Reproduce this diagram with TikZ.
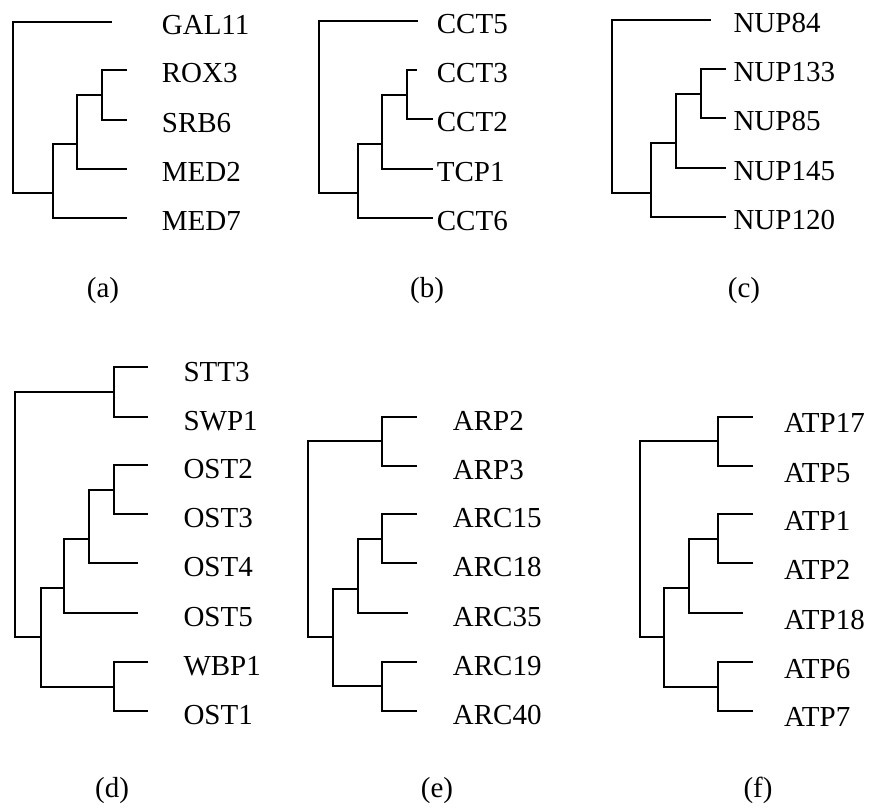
\documentclass[tikz,border=0pt]{standalone}
\usepackage{fontspec}
\setmainfont{Liberation Serif}
\begin{document}
\begin{tikzpicture}[x=1pt,y=-1pt,
  branch/.style={draw=black,line width=1.8pt,line join=miter},
  leaflabel/.style={anchor=base west,inner sep=0pt,font=\fontsize{29}{34}\selectfont},
  panellabel/.style={anchor=base,inner sep=0pt,font=\fontsize{29}{34}\selectfont}]
\useasboundingbox (0,0) rectangle (880,810);
\fill[white] (0,0) rectangle (880,810);

% ---------- (a) ----------
\coordinate (a0) at (13.3,100);
\coordinate (a1) at (52.7,192.7);
\coordinate (a2) at (77.3,144);
\coordinate (a3) at (101.7,95);
\coordinate (aL1) at (112,21.7);
\coordinate (aL2) at (127.3,70);
\coordinate (aL3) at (127.3,120);
\coordinate (aL4) at (127.3,169);
\coordinate (aL5) at (127.3,217.7);
\draw[branch] (a0) |- (aL1);
\draw[branch] (a0) |- (a1);
\draw[branch] (a1) |- (a2);
\draw[branch] (a1) |- (aL5);
\draw[branch] (a2) |- (a3);
\draw[branch] (a2) |- (aL4);
\draw[branch] (a3) |- (aL2);
\draw[branch] (a3) |- (aL3);
\node[leaflabel] (ta1) at (161.7,34.2) {GAL11};
\node[leaflabel] (ta2) at (161.7,82.5) {ROX3};
\node[leaflabel] (ta3) at (161.7,132.5) {SRB6};
\node[leaflabel] (ta4) at (161.7,181.5) {MED2};
\node[leaflabel] (ta5) at (161.7,230.2) {MED7};
\node[panellabel] (pa) at (103,297) {(a)};

% ---------- (b) ----------
\coordinate (b0) at (319,100);
\coordinate (b1) at (358.3,192.7);
\coordinate (b2) at (382,144);
\coordinate (b3) at (407.3,95);
\coordinate (bL1) at (417.7,20.7);
\coordinate (bL2) at (416.7,70);
\coordinate (bL3) at (433,119.3);
\coordinate (bL4) at (433,169);
\coordinate (bL5) at (433,217.7);
\draw[branch] (b0) |- (bL1);
\draw[branch] (b0) |- (b1);
\draw[branch] (b1) |- (b2);
\draw[branch] (b1) |- (bL5);
\draw[branch] (b2) |- (b3);
\draw[branch] (b2) |- (bL4);
\draw[branch] (b3) |- (bL2);
\draw[branch] (b3) |- (bL3);
\node[leaflabel] (tb1) at (436.7,33.2) {CCT5};
\node[leaflabel] (tb2) at (436.7,82.5) {CCT3};
\node[leaflabel] (tb3) at (436.7,131.8) {CCT2};
\node[leaflabel] (tb4) at (436.7,181.5) {TCP1};
\node[leaflabel] (tb5) at (436.7,230.2) {CCT6};
\node[panellabel] (pb) at (427,297) {(b)};

% ---------- (c) ----------
\coordinate (c0) at (611.7,100);
\coordinate (c1) at (651,192.7);
\coordinate (c2) at (676,143.3);
\coordinate (c3) at (700.7,94.3);
\coordinate (cL1) at (710.7,20);
\coordinate (cL2) at (726,69.3);
\coordinate (cL3) at (726,118.3);
\coordinate (cL4) at (726,168.3);
\coordinate (cL5) at (726,217.3);
\draw[branch] (c0) |- (cL1);
\draw[branch] (c0) |- (c1);
\draw[branch] (c1) |- (c2);
\draw[branch] (c1) |- (cL5);
\draw[branch] (c2) |- (c3);
\draw[branch] (c2) |- (cL4);
\draw[branch] (c3) |- (cL2);
\draw[branch] (c3) |- (cL3);
\node[leaflabel] (tc1) at (733.3,32.5) {NUP84};
\node[leaflabel] (tc2) at (733.3,81.8) {NUP133};
\node[leaflabel] (tc3) at (733.3,130.8) {NUP85};
\node[leaflabel] (tc4) at (733.3,180.8) {NUP145};
\node[leaflabel] (tc5) at (733.3,229.8) {NUP120};
\node[panellabel] (pc) at (744,297) {(c)};

% ---------- (d) ----------
\coordinate (d0) at (15,500);
\coordinate (d1) at (114,391.7);
\coordinate (d2) at (40.7,637.3);
\coordinate (d3) at (114,687.3);
\coordinate (d4) at (64.3,587.7);
\coordinate (d5) at (89.3,539.3);
\coordinate (d6) at (114,490);
\coordinate (dL1) at (148.3,367.3);
\coordinate (dL2) at (148.3,417.3);
\coordinate (dL3) at (148.3,465);
\coordinate (dL4) at (148.3,514.3);
\coordinate (dL5) at (138.3,563.3);
\coordinate (dL6) at (138.3,612.7);
\coordinate (dL7) at (148.3,661.7);
\coordinate (dL8) at (148.3,711);
\draw[branch] (d0) |- (d1);
\draw[branch] (d0) |- (d2);
\draw[branch] (d1) |- (dL1);
\draw[branch] (d1) |- (dL2);
\draw[branch] (d2) |- (d4);
\draw[branch] (d2) |- (d3);
\draw[branch] (d3) |- (dL7);
\draw[branch] (d3) |- (dL8);
\draw[branch] (d4) |- (d5);
\draw[branch] (d4) |- (dL6);
\draw[branch] (d5) |- (d6);
\draw[branch] (d5) |- (dL5);
\draw[branch] (d6) |- (dL3);
\draw[branch] (d6) |- (dL4);
\node[leaflabel] (td1) at (183.3,381.3) {STT3};
\node[leaflabel] (td2) at (183.3,430.8) {SWP1};
\node[leaflabel] (td3) at (183.3,478.5) {OST2};
\node[leaflabel] (td4) at (183.3,527.8) {OST3};
\node[leaflabel] (td5) at (183.3,576.8) {OST4};
\node[leaflabel] (td6) at (183.3,626.2) {OST5};
\node[leaflabel] (td7) at (183.3,675.2) {WBP1};
\node[leaflabel] (td8) at (183.3,724.5) {OST1};
\node[panellabel] (pd) at (112,797) {(d)};

% ---------- (e) ----------
\coordinate (e0) at (308.3,500);
\coordinate (e1) at (381.7,441);
\coordinate (e2) at (332.7,637.3);
\coordinate (e3) at (381.7,686);
\coordinate (e4) at (357.7,589);
\coordinate (e5) at (381.7,539);
\coordinate (eL1) at (417.3,416.7);
\coordinate (eL2) at (417.3,465.7);
\coordinate (eL3) at (417.3,514.3);
\coordinate (eL4) at (417.3,563.3);
\coordinate (eL5) at (407.7,613.3);
\coordinate (eL6) at (417.3,662.3);
\coordinate (eL7) at (417.3,710.7);
\draw[branch] (e0) |- (e1);
\draw[branch] (e0) |- (e2);
\draw[branch] (e1) |- (eL1);
\draw[branch] (e1) |- (eL2);
\draw[branch] (e2) |- (e4);
\draw[branch] (e2) |- (e3);
\draw[branch] (e3) |- (eL6);
\draw[branch] (e3) |- (eL7);
\draw[branch] (e4) |- (e5);
\draw[branch] (e4) |- (eL5);
\draw[branch] (e5) |- (eL3);
\draw[branch] (e5) |- (eL4);
\node[leaflabel] (te1) at (452.7,430.2) {ARP2};
\node[leaflabel] (te2) at (452.7,479.2) {ARP3};
\node[leaflabel] (te3) at (452.7,527.8) {ARC15};
\node[leaflabel] (te4) at (452.7,576.8) {ARC18};
\node[leaflabel] (te5) at (452.7,626.8) {ARC35};
\node[leaflabel] (te6) at (452.7,675.8) {ARC19};
\node[leaflabel] (te7) at (452.7,724.5) {ARC40};
\node[panellabel] (pe) at (437,797) {(e)};

% ---------- (f) ----------
\coordinate (f0) at (640,500);
\coordinate (f1) at (718.3,441);
\coordinate (f2) at (664.3,637.3);
\coordinate (f3) at (718.3,686.7);
\coordinate (f4) at (689.3,588.3);
\coordinate (f5) at (718.3,539);
\coordinate (fL1) at (753.3,416.7);
\coordinate (fL2) at (753.3,466);
\coordinate (fL3) at (753.3,514.3);
\coordinate (fL4) at (753.3,563.3);
\coordinate (fL5) at (743.3,613.3);
\coordinate (fL6) at (753.3,662.3);
\coordinate (fL7) at (753.3,710.7);
\draw[branch] (f0) |- (f1);
\draw[branch] (f0) |- (f2);
\draw[branch] (f1) |- (fL1);
\draw[branch] (f1) |- (fL2);
\draw[branch] (f2) |- (f4);
\draw[branch] (f2) |- (f3);
\draw[branch] (f3) |- (fL6);
\draw[branch] (f3) |- (fL7);
\draw[branch] (f4) |- (f5);
\draw[branch] (f4) |- (fL5);
\draw[branch] (f5) |- (fL3);
\draw[branch] (f5) |- (fL4);
\node[leaflabel] (tf1) at (784,432.7) {ATP17};
\node[leaflabel] (tf2) at (784,482) {ATP5};
\node[leaflabel] (tf3) at (784,530.3) {ATP1};
\node[leaflabel] (tf4) at (784,579.3) {ATP2};
\node[leaflabel] (tf5) at (784,629.3) {ATP18};
\node[leaflabel] (tf6) at (784,678.3) {ATP6};
\node[leaflabel] (tf7) at (784,726.7) {ATP7};
\node[panellabel] (pf) at (758,797) {(f)};
\end{tikzpicture}
\end{document}
